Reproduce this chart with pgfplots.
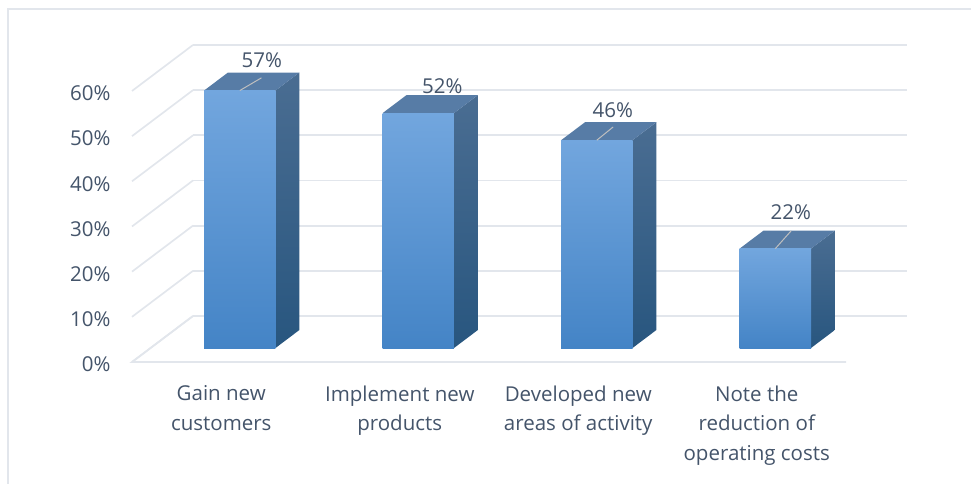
\documentclass[border=0pt]{standalone}
\usepackage{fontspec}
\setmainfont{Open Sans}
\usepackage{pgfplots}
\pgfplotsset{compat=1.18}
\usetikzlibrary{calc}
\definecolor{txt}{HTML}{44546A}
\definecolor{gridc}{HTML}{E2E6EC}
\definecolor{frontA}{HTML}{72A6DE}
\definecolor{frontB}{HTML}{5B9BDC}
\definecolor{frontC}{HTML}{4484C6}
\definecolor{sideA}{HTML}{4A6D92}
\definecolor{sideB}{HTML}{28567F}
\definecolor{topc}{HTML}{577CA6}

% one oblique bar: left, right, value
\newcommand{\obar}[3]{
  \addplot3[draw=none, top color=sideA, bottom color=sideB, forget plot]
    coordinates {(#2,0.304,0) (#2,0.696,0) (#2,0.696,#3) (#2,0.304,#3)} -- cycle;
  \addplot3[draw=none, fill=topc, forget plot]
    coordinates {(#1,0.304,#3) (#2,0.304,#3) (#2,0.696,#3) (#1,0.696,#3)} -- cycle;
  \addplot3[draw=none, top color=frontA, middle color=frontB, bottom color=frontC, forget plot]
    coordinates {(#1,0.304,0) (#2,0.304,0) (#2,0.304,#3) (#1,0.304,#3)} -- cycle;
}

\begin{document}
\begin{tikzpicture}
\begin{axis}[
  x={(178.5pt,0pt)}, y={(61pt,46pt)}, z={(0pt,4.517pt)},
  xmin=-0.5, xmax=3.5, ymin=0, ymax=1, zmin=0, zmax=60,
  clip=false, no marks,
  axis line style={draw=none},
  major tick length=0pt,
  zmajorgrids,
  grid style={gridc, line width=1.7pt},
  xtick={0,1,2,3},
  xticklabels={{Gain new\\customers},{Implement new\\products},{Developed new\\areas of activity},{Note the\\reduction of\\operating costs}},
  ytick=\empty,
  ztick={0,10,20,30,40,50,60},
  zticklabel={\pgfmathprintnumber{\tick}\%},
  /pgf/number format/assume math mode=true,
  ticklabel style={font=\fontsize{20.5}{29.5}\selectfont, text=txt},
  xticklabel style={align=center, anchor=north, yshift=-20pt},
  zticklabel style={anchor=east, xshift=-18pt, yshift=-2.5pt},
]
% floor edges
\addplot3[gridc, line width=1.7pt, forget plot] coordinates {(-0.5,1,0) (-0.5,0,0) (3.5,0,0)};

\obar{-0.2}{0.2}{57}
\obar{0.8}{1.2}{52}
\obar{1.8}{2.2}{46}
\obar{2.8}{3.2}{22}

% leader lines
\addplot3[color=black!25, line width=1pt, forget plot] coordinates {(0,0.304,57) (0.027,0.580,57)};
\addplot3[color=black!25, line width=1pt, forget plot] coordinates {(2,0.304,46) (1.993,0.593,46)};
\addplot3[color=black!25, line width=1pt, forget plot] coordinates {(3,0.304,22) (2.956,0.695,22)};

\begin{scope}[every node/.style={font=\fontsize{20.5}{24}\selectfont, text=txt}]
\node[xshift=-2pt, yshift=12.5pt] at (axis cs:0,0.696,57) {57\%};
\node[yshift=9pt] at (axis cs:1,0.696,52) {52\%};
\node[xshift=-8pt, yshift=12pt] at (axis cs:2,0.696,46) {46\%};
\node[xshift=-8.5pt, yshift=18pt] at (axis cs:3,0.696,22) {22\%};
\end{scope}

\coordinate (O) at (axis cs:-0.5,0,0);
\end{axis}
% frame at the top and left of the image
\draw[gridc, line width=1.7pt] ($(O)+(-124pt,-122pt)$) -- ($(O)+(-124pt,353pt)$) -- ($(O)+(839pt,353pt)$);
\pgfresetboundingbox
\path[use as bounding box] ($(O)+(-132pt,-122pt)$) rectangle ($(O)+(839pt,362pt)$);
\end{tikzpicture}
\end{document}
